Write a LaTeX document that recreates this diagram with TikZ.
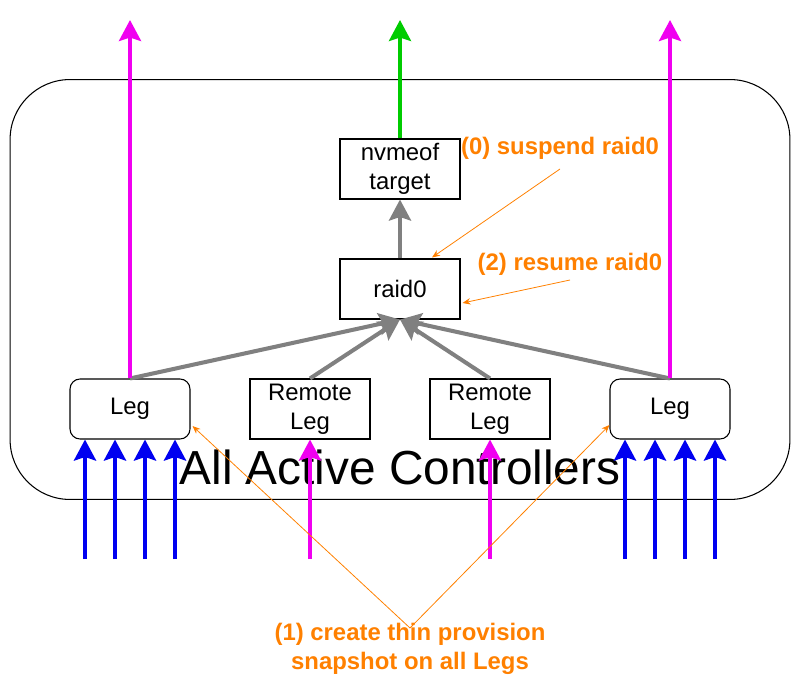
\documentclass[tikz,border=0pt]{standalone}
\usepackage{fontspec}
\setmainfont{Liberation Sans}
\usetikzlibrary{arrows.meta}
\begin{document}
\begin{tikzpicture}[x=0.02cm,y=-0.02cm,font=\fontsize{13.6}{16.4}\selectfont,
  box/.style={draw,line width=0.6pt,minimum width=2.4cm,minimum height=1.2cm,align=center,inner sep=0pt},
  legbox/.style={box,rounded corners=0.2cm},
  fat/.style={line width=2.3pt,-{Stealth[length=0.42cm,width=0.44cm,inset=0.07cm]}},
  note/.style={text=stepnote,font=\bfseries\fontsize{13.6}{16.4}\selectfont,align=center},
  pointer/.style={draw=stepnote,line width=0.45pt,-{Stealth[length=0.16cm,width=0.13cm]}}]
\definecolor{stepnote}{RGB}{255,128,0}
\definecolor{snapio}{RGB}{240,0,240}
\definecolor{hostio}{RGB}{0,0,240}
\definecolor{exportio}{RGB}{0,204,0}
\definecolor{stackio}{RGB}{128,128,128}
\useasboundingbox (0,0) rectangle (801,689);
% controller frame
\node[draw,line width=0.6pt,rounded corners=1.2cm,minimum width=15.6cm,minimum height=8.4cm,inner sep=0pt] (ctrl) at (400,289.5) {};
\node[font=\fontsize{27.2}{32}\selectfont] (ctrltext) at (400,467) {All Active Controllers};
% device stack
\node[box] (target) at (400,169) {nvmeof\\target};
\node[box] (raid) at (400,289) {raid0};
\node[legbox] (legA) at (130,409) {Leg};
\node[box] (remA) at (310,409) {Remote\\Leg};
\node[box] (remB) at (490,409) {Remote\\Leg};
\node[legbox] (legB) at (670,409) {Leg};
% free ends
\coordinate (outA) at (130,20);
\coordinate (outT) at (400,20);
\coordinate (outB) at (670,20);
\coordinate (inA1) at (85,559);
\coordinate (inA2) at (115,559);
\coordinate (inA3) at (145,559);
\coordinate (inA4) at (175,559);
\coordinate (inB1) at (625,559);
\coordinate (inB2) at (655,559);
\coordinate (inB3) at (685,559);
\coordinate (inB4) at (715,559);
\coordinate (inRA) at (310,559);
\coordinate (inRB) at (490,559);
% raid0 members
\draw[fat,stackio] (legA.north) -- (raid.south);
\draw[fat,stackio] (remA.north) -- (raid.south);
\draw[fat,stackio] (remB.north) -- (raid.south);
\draw[fat,stackio] (legB.north) -- (raid.south);
\draw[fat,stackio] (raid.north) -- (target.south);
% outputs
\draw[fat,snapio] (legA.north) -- (outA);
\draw[fat,exportio] (target.north) -- (outT);
\draw[fat,snapio] (legB.north) -- (outB);
% inputs
\draw[fat,hostio] (inA1) -- (inA1 |- legA.south);
\draw[fat,hostio] (inA2) -- (inA2 |- legA.south);
\draw[fat,hostio] (inA3) -- (inA3 |- legA.south);
\draw[fat,hostio] (inA4) -- (inA4 |- legA.south);
\draw[fat,hostio] (inB1) -- (inB1 |- legB.south);
\draw[fat,hostio] (inB2) -- (inB2 |- legB.south);
\draw[fat,hostio] (inB3) -- (inB3 |- legB.south);
\draw[fat,hostio] (inB4) -- (inB4 |- legB.south);
\draw[fat,snapio] (inRA) -- (remA.south);
\draw[fat,snapio] (inRB) -- (remB.south);
% steps
\node[note] (s0) at (560,148) {(0) suspend raid0};
\node[note] (s2) at (570,264) {(2) resume raid0};
\node[note] (s1) at (410,649) {(1) create thin provision\\snapshot on all Legs};
\coordinate (s0tail) at (560,169);
\coordinate (s2tail) at (570,280);
\coordinate (s1tail) at (410,628);
\draw[pointer] (s0tail) -- ([shift={(32,-1)}]raid.north);
\draw[pointer] (s2tail) -- ([shift={(2,14)}]raid.east);
\draw[pointer] (s1tail) -- ([shift={(2,17)}]legA.east);
\draw[pointer] (s1tail) -- ([shift={(0,16)}]legB.west);
\end{tikzpicture}
\end{document}
